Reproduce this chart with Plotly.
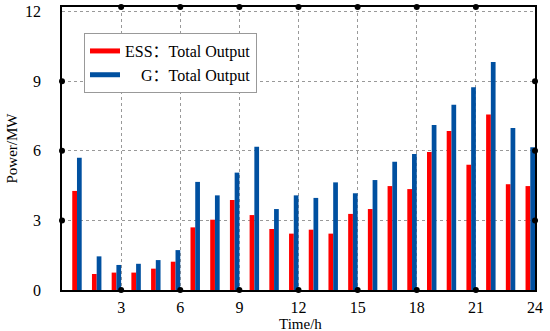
import plotly.graph_objects as go

hours = list(range(1, 25))
ess_output = [4.27, 0.69, 0.75, 0.75, 0.92, 1.22, 2.70, 3.03, 3.88, 3.23, 2.63, 2.43,
              2.60, 2.43, 3.28, 3.49, 4.48, 4.35, 5.95, 6.85, 5.40, 7.57, 4.56, 4.48]
g_output = [5.70, 1.45, 1.08, 1.13, 1.29, 1.72, 4.66, 4.08, 5.06, 6.18, 3.49, 4.08,
            3.97, 4.64, 4.17, 4.74, 5.53, 5.86, 7.11, 7.99, 8.74, 9.83, 6.98, 6.15]
x_ticks = [3, 6, 9, 12, 15, 18, 21, 24]
y_ticks = [0, 3, 6, 9, 12]
legend_names = ["ESS\uff1aTotal Output", "\u00a0\u00a0\u00a0\u00a0G\uff1aTotal Output"]
x_title = "Time/h"
y_title = "Power/MW"

RED = "#ff0000"
BLUE = "#0050a0"
FONT = "'Liberation Serif', 'Noto Sans CJK SC', serif"

fig = go.Figure()
fig.add_trace(go.Bar(x=hours, y=ess_output, offset=-0.48, width=0.24,
                     marker=dict(color=RED, line=dict(width=0)), showlegend=False))
fig.add_trace(go.Bar(x=hours, y=g_output, offset=-0.24, width=0.24,
                     marker=dict(color=BLUE, line=dict(width=0)), showlegend=False))
# legend entries drawn as thick lines
for name, col in zip(legend_names, [RED, BLUE]):
    fig.add_trace(go.Scatter(x=[None], y=[None], mode="lines", name=name,
                             line=dict(color=col, width=5)))

# black dots at the interior tick positions on all four edges
shapes = []
dot = dict(type="circle", xsizemode="pixel", ysizemode="pixel",
           x0=-3, x1=3, y0=-3, y1=3, fillcolor="black", line=dict(width=0), layer="above")
for xv in x_ticks[:-1]:
    for yp in (0, 1):
        shapes.append(dict(dot, xref="x", yref="paper", xanchor=xv, yanchor=yp))
for yv in y_ticks[1:-1]:
    for xp in (0, 1):
        shapes.append(dict(dot, xref="paper", yref="y", xanchor=xp, yanchor=yv))

fig.update_layout(
    width=550, height=331,
    margin=dict(l=62, r=15, t=7, b=41),
    paper_bgcolor="white", plot_bgcolor="white",
    barmode="overlay",
    font=dict(family=FONT, size=15, color="black"),
    shapes=shapes,
    annotations=[dict(text=x_title, xref="paper", yref="paper", x=0.505, y=0,
                      xanchor="center", yanchor="top", yshift=-24, showarrow=False,
                      font=dict(family=FONT, size=15, color="black"))],
    legend=dict(x=0.0465, y=0.908, xanchor="left", yanchor="top",
                bordercolor="#999999", borderwidth=1, bgcolor="white",
                font=dict(family=FONT, size=16, color="black"),
                tracegroupgap=0, itemwidth=30),
    xaxis=dict(range=[0, 24], tickvals=x_ticks, ticks="", showline=True, mirror=True,
               linecolor="black", linewidth=1.5, showgrid=True, gridcolor="#999999",
               griddash="3px,3px", gridwidth=1, zeroline=False, automargin=False,
               tickfont=dict(family=FONT, size=16, color="black"), ticklabelstandoff=2),
    yaxis=dict(range=[0, 12.2], tickvals=y_ticks, ticks="", showline=True, mirror=True,
               linecolor="black", linewidth=1.5, showgrid=True, gridcolor="#999999",
               griddash="3px,3px", gridwidth=1, zeroline=False, automargin=False,
               tickfont=dict(family=FONT, size=16, color="black"), ticklabelstandoff=16,
               title=dict(text=y_title, font=dict(family=FONT, size=15, color="black"),
                          standoff=4)),
)

fig.write_html("out.html", config={"displayModeBar": False},
               post_script="document.body.style.margin='0';")
